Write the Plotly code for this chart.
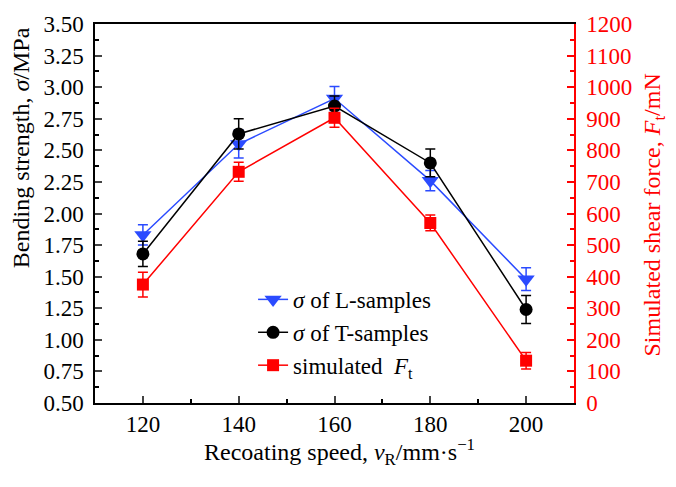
import plotly.graph_objects as go

speed = [120, 140, 160, 180, 200]
sigma_L = [1.83, 2.55, 2.91, 2.26, 1.48]
sigma_L_err = [0.08, 0.11, 0.095, 0.08, 0.09]
sigma_T = [1.68, 2.63, 2.85, 2.40, 1.24]
sigma_T_err = [0.10, 0.12, 0.08, 0.11, 0.11]
force = [375, 732, 903, 570, 134]
force_err = [39, 30, 30, 25, 26]

FONT = "Liberation Serif"
BLUE = "#2B4BFF"
RED = "#FF0000"

fig = go.Figure()
fig.add_trace(go.Scatter(
    x=speed, y=sigma_L, name="<i>σ</i> of L-samples", mode="lines+markers",
    line=dict(color=BLUE, width=1.5),
    marker=dict(symbol="triangle-down", size=15, color=BLUE),
    error_y=dict(type="data", array=sigma_L_err, color=BLUE, thickness=1.5, width=5),
))
fig.add_trace(go.Scatter(
    x=speed, y=sigma_T, name="<i>σ</i> of T-samples", mode="lines+markers",
    line=dict(color="black", width=1.5),
    marker=dict(symbol="circle", size=13, color="black"),
    error_y=dict(type="data", array=sigma_T_err, color="black", thickness=1.5, width=5),
))
fig.add_trace(go.Scatter(
    x=speed, y=force, name="simulated  <i>F</i><sub>t</sub>", mode="lines+markers",
    yaxis="y2",
    line=dict(color=RED, width=1.5),
    marker=dict(symbol="square", size=12, color=RED),
    error_y=dict(type="data", array=force_err, color=RED, thickness=1.5, width=5),
))

fig.update_layout(
    width=676, height=487,
    margin=dict(l=95, r=102, t=18, b=84),
    paper_bgcolor="white", plot_bgcolor="white",
    font=dict(family=FONT, size=23, color="black"),
    showlegend=True,
    legend=dict(x=0.33, y=0.33, xanchor="left", yanchor="top",
                bgcolor="rgba(0,0,0,0)", font=dict(family=FONT, size=23),
                tracegroupgap=0),
    xaxis=dict(
        range=[110, 210], tickvals=speed, ticks="inside", ticklen=7, tickwidth=1.5,
        minor=dict(dtick=10, tick0=110, ticks="inside", ticklen=4, tickwidth=1.5, tickcolor="black"),
        showline=True, linecolor="black", linewidth=1.5, mirror=True, showgrid=False,
        zeroline=False, ticklabelstandoff=0,
        tickfont=dict(size=23),
    ),
    yaxis=dict(
        range=[0.5, 3.5], dtick=0.25, tick0=0.5, tickformat=".2f",
        ticks="inside", ticklen=7, tickwidth=1.5,
        minor=dict(dtick=0.125, ticks="inside", ticklen=4, tickwidth=1.5, tickcolor="black"),
        showline=True, linecolor="black", linewidth=1.5, showgrid=False, zeroline=False,
        ticklabelstandoff=5,
        tickfont=dict(size=23),
    ),
    yaxis2=dict(
        range=[0, 1200], dtick=100, overlaying="y", side="right",
        ticks="inside", ticklen=7, tickwidth=1.5, tickcolor=RED,
        minor=dict(dtick=50, ticks="inside", ticklen=4, tickwidth=1.5, tickcolor=RED),
        showline=True, linecolor=RED, linewidth=1.5, showgrid=False, zeroline=False,
        ticklabelstandoff=6,
        tickfont=dict(size=23, color=RED),
    ),
    annotations=[
        dict(text="Recoating speed, <i>v</i><sub>R</sub>/mm·s<sup>−1</sup>",
             xref="paper", yref="paper", x=0.511, y=-0.13,
             xanchor="center", yanchor="middle", showarrow=False,
             font=dict(size=24, color="black")),
        dict(text="Bending strength, <i>σ</i>/MPa",
             xref="paper", yref="paper", x=-0.154, y=0.673, textangle=-90,
             xanchor="center", yanchor="middle", showarrow=False,
             font=dict(size=24, color="black")),
        dict(text="Simulated shear force, <i>F</i><sub>t</sub>/mN",
             xref="paper", yref="paper", x=1.168, y=0.496, textangle=-90,
             xanchor="center", yanchor="middle", showarrow=False,
             font=dict(size=24, color=RED)),
    ],
)

fig.write_html("out.html")
